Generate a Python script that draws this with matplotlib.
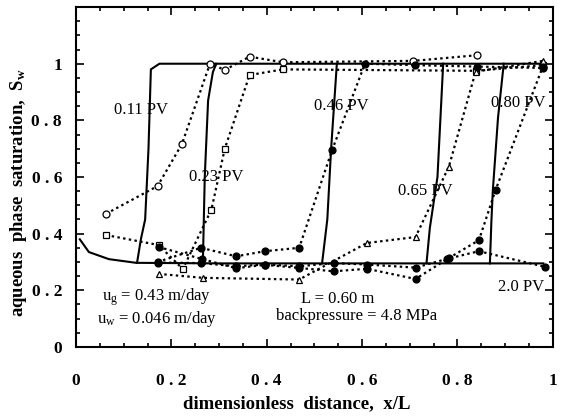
import matplotlib
matplotlib.use("Agg")
import matplotlib.pyplot as plt
from matplotlib.ticker import MultipleLocator

plt.rcParams['font.family'] = ['Liberation Serif', 'DejaVu Serif']
plt.rcParams['mathtext.fontset'] = 'custom'
plt.rcParams['mathtext.rm'] = 'Liberation Serif'
plt.rcParams['mathtext.it'] = 'Liberation Serif'
plt.rcParams['mathtext.bf'] = 'Liberation Serif:bold'

# -------------------- SIMULACION (lineas solidas) --------------------
# perfil a 2.0 PV: plateau inferior con la curva de entrada
sim_low_x = [0.008, 0.027, 0.069, 0.126, 0.3, 0.5, 0.7, 0.9, 0.98]
sim_low_y = [0.380, 0.335, 0.310, 0.297, 0.295, 0.295, 0.295, 0.295, 0.295]

# frentes (de abajo hacia arriba) y plateau superior
front_011_x = [0.128, 0.136, 0.145, 0.152, 0.157, 0.175, 0.98]
front_011_y = [0.297, 0.38, 0.45, 0.70, 0.98, 1.0, 1.0]
front_023_x = [0.266, 0.27, 0.277, 0.287, 0.294]
front_023_y = [0.295, 0.60, 0.87, 0.97, 1.0]
front_046_x = [0.516, 0.527, 0.535, 0.547]
front_046_y = [0.295, 0.45, 0.70, 1.0]
front_065_x = [0.735, 0.742, 0.758, 0.770]
front_065_y = [0.295, 0.42, 0.60, 1.0]
front_080_x = [0.868, 0.871, 0.874, 0.885, 0.897]
front_080_y = [0.295, 0.44, 0.55, 0.81, 1.0]

# -------------------- EXPERIMENTO (puntos + linea punteada) --------------------
exp_011_x = [0.063, 0.171, 0.222, 0.281, 0.312, 0.364, 0.434, 0.707, 0.841]
exp_011_y = [0.470, 0.568, 0.716, 1.0, 0.978, 1.025, 1.005, 1.01, 1.03]

exp_023_x = [0.063, 0.173, 0.224, 0.284, 0.312, 0.364, 0.434, 0.838, 0.979]
exp_023_y = [0.395, 0.360, 0.275, 0.485, 0.700, 0.960, 0.980, 0.975, 0.995]

exp_046_x = [0.171, 0.262, 0.336, 0.396, 0.468, 0.537, 0.606, 0.71, 0.84, 0.979]
exp_046_y = [0.300, 0.350, 0.320, 0.338, 0.350, 0.695, 1.0, 0.995, 0.99, 0.985]

exp_065_x = [0.173, 0.266, 0.468, 0.61, 0.712, 0.782, 0.838, 0.979]
exp_065_y = [0.258, 0.244, 0.238, 0.367, 0.388, 0.637, 0.972, 1.01]

exp_080_x = [0.173, 0.265, 0.336, 0.396, 0.468, 0.54, 0.61, 0.712, 0.782, 0.845, 0.88, 0.979]
exp_080_y = [0.353, 0.310, 0.278, 0.290, 0.279, 0.267, 0.276, 0.240, 0.314, 0.377, 0.555, 0.99]

exp_20_x = [0.171, 0.262, 0.336, 0.396, 0.468, 0.54, 0.61, 0.712, 0.778, 0.845, 0.983]
exp_20_y = [0.298, 0.296, 0.285, 0.291, 0.285, 0.296, 0.291, 0.280, 0.311, 0.338, 0.283]

tick_vals = [0, 0.2, 0.4, 0.6, 0.8, 1.0]
tick_text = ['0', '0 . 2', '0 . 4', '0 . 6', '0 . 8', '1']

# -------------------- FIGURA --------------------
fig = plt.figure(figsize=(5.63, 4.16), dpi=100)
ax = fig.add_axes([0.135, 0.166, 0.847, 0.817])

solid = dict(color='black', lw=1.5, solid_joinstyle='round')
for xs, ys in [(sim_low_x, sim_low_y), (front_011_x, front_011_y), (front_023_x, front_023_y),
               (front_046_x, front_046_y), (front_065_x, front_065_y), (front_080_x, front_080_y)]:
    ax.plot(xs, ys, '-', **solid)

dot = dict(color='black', lw=1.6, linestyle=(0, (1.1, 1.5)), markersize=5, markeredgewidth=0.9)
ax.plot(exp_011_x, exp_011_y, marker='o', mfc='white', mec='black', **dot)
ax.plot(exp_023_x, exp_023_y, marker='s', mfc='white', mec='black', **dot)
ax.plot(exp_046_x, exp_046_y, marker='o', mfc='black', mec='black', **dot)
ax.plot(exp_065_x, exp_065_y, marker='^', mfc='white', mec='black', **dot)
ax.plot(exp_080_x, exp_080_y, marker='o', mfc='black', mec='black', **dot)
ax.plot(exp_20_x, exp_20_y, marker='o', mfc='black', mec='black', **dot)

# -------------------- EJES --------------------
ax.set_xlim(0, 1)
ax.set_ylim(0, 1.2)
ax.xaxis.set_minor_locator(MultipleLocator(0.05))
ax.yaxis.set_minor_locator(MultipleLocator(0.05))
ax.set_xticks(tick_vals)
ax.set_xticklabels(tick_text)
ax.set_yticks(tick_vals)
ax.set_yticklabels(tick_text)
ax.tick_params(which='both', direction='in', top=True, right=True, width=1.2)
ax.tick_params(which='major', length=6, labelsize=12.5)
ax.tick_params(axis='x', which='major', pad=19)
ax.tick_params(axis='y', which='major', pad=10)
ax.tick_params(which='minor', length=3)
for lab in ax.get_xticklabels() + ax.get_yticklabels():
    lab.set_fontweight('bold')
for s in ax.spines.values():
    s.set_linewidth(1.5)

ax.set_xlabel('dimensionless  distance,  x/L', fontsize=13.5, fontweight='bold', va='center')
ax.set_ylabel(r'aqueous  phase  saturation,  S$_\mathbf{w}$', fontsize=13.5, fontweight='bold', va='center')
ax.xaxis.set_label_coords(0.463, -0.168)
ax.yaxis.set_label_coords(-0.12, 0.453)

# -------------------- TEXTOS --------------------
tk = dict(fontsize=12, ha='center', va='center')
ax.text(0.136, 0.837, '0.11 PV', **tk)
ax.text(0.295, 0.600, '0.23 PV', **tk)
ax.text(0.557, 0.852, '0.46 PV', **tk)
ax.text(0.732, 0.549, '0.65 PV', **tk)
ax.text(0.927, 0.861, '0.80 PV', **tk)
ax.text(0.934, 0.213, '2.0 PV', **tk)
ax.text(0.054, 0.176, r'u$_\mathrm{g}$ = 0.43 m/day', fontsize=12, ha='left', va='center')
ax.text(0.043, 0.098, r'u$_\mathrm{w}$ = 0.046 m/day', fontsize=12, ha='left', va='center')
ax.text(0.548, 0.168, 'L = 0.60 m', **tk)
ax.text(0.589, 0.110, 'backpressure = 4.8 MPa', **tk)

fig.savefig('out.png', dpi=100)
